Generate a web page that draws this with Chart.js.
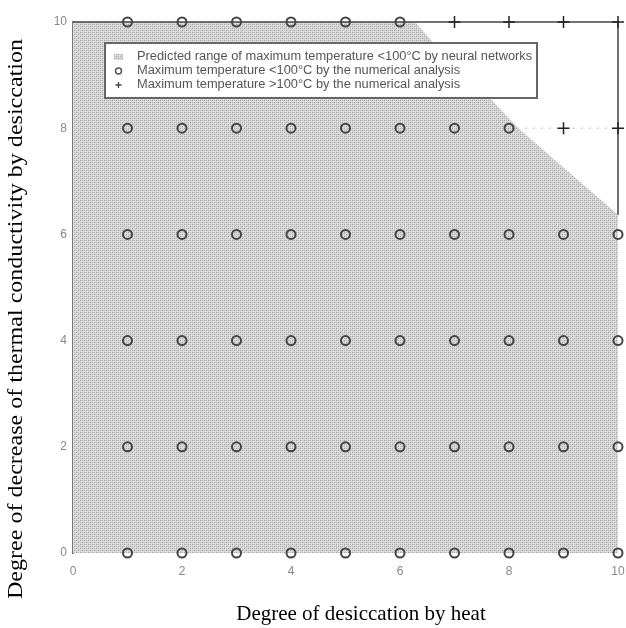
<!DOCTYPE html>
<html>
<head>
<meta charset="utf-8">
<script src="https://cdn.jsdelivr.net/npm/chart.js@4"></script>
<style>
  html, body { margin: 0; padding: 0; background: #fff; }
  #wrap { width: 626px; height: 628px; position: relative; }
</style>
</head>
<body>
<div id="wrap"><canvas id="c" width="626" height="628"></canvas></div>
<script>
// ---- data ----
const xTicks = [0, 2, 4, 6, 8, 10];
const yTicks = [0, 2, 4, 6, 8, 10];
// points where the max temperature < 100°C (numerical analysis)
const belowX = [1,2,3,4,5,6,7,8,9,10, 1,2,3,4,5,6,7,8,9,10, 1,2,3,4,5,6,7,8,9,10, 1,2,3,4,5,6,7,8,9,10, 1,2,3,4,5,6,7,8, 1,2,3,4,5,6];
const belowY = [0,0,0,0,0,0,0,0,0,0, 2,2,2,2,2,2,2,2,2,2, 4,4,4,4,4,4,4,4,4,4, 6,6,6,6,6,6,6,6,6,6, 8,8,8,8,8,8,8,8, 10,10,10,10,10,10];
// points where the max temperature > 100°C
const aboveX = [7, 8, 9, 10, 9, 10];
const aboveY = [10, 10, 10, 10, 8, 8];
// boundary of the neural-network predicted range (<100°C)
const boundaryX = [0, 6.28, 6.6, 7.65, 8.17, 8.45, 10];
const boundaryY = [10, 10, 9.62, 8.57, 8.0, 7.75, 6.37];
const legendLabels = [
  'Predicted range of maximum temperature <100\u00B0C by neural networks',
  'Maximum temperature <100\u00B0C by the numerical analysis',
  'Maximum temperature >100\u00B0C by the numerical analysis'
];
const xTitle = 'Degree of desiccation by heat';
const yTitle = 'Degree of decrease of thermal conductivity by desiccation';

// ---- build ----
function makePattern() {
  const p = document.createElement('canvas');
  p.width = 4; p.height = 4;
  const g = p.getContext('2d');
  g.fillStyle = '#d6d6d6'; g.fillRect(0, 0, 4, 4);
  g.fillStyle = '#a4a4a4';
  g.fillRect(0, 0, 1, 1); g.fillRect(2, 2, 1, 1);
  g.fillStyle = '#bdbdbd';
  g.fillRect(2, 0, 1, 1); g.fillRect(0, 2, 1, 1);
  g.fillStyle = '#e6e6e6';
  g.fillRect(1, 1, 1, 1); g.fillRect(3, 3, 1, 1);
  return g.createPattern(p, 'repeat');
}
const pattern = makePattern();
const zip = (xs, ys) => xs.map((x, i) => ({ x: x, y: ys[i] }));

const legendPlugin = {
  id: 'customLegend',
  afterDatasetsDraw(chart) {
    const ctx = chart.ctx;
    const x0 = 105, y0 = 43, w = 432, h = 55;
    ctx.save();
    ctx.fillStyle = '#fff';
    ctx.fillRect(x0, y0, w, h);
    ctx.strokeStyle = '#666';
    ctx.lineWidth = 2;
    ctx.strokeRect(x0, y0, w, h);
    const rows = [57, 71, 85];
    ctx.fillStyle = pattern;
    ctx.fillRect(114, rows[0] - 3, 9, 6);
    ctx.beginPath();
    ctx.arc(118.5, rows[1], 3, 0, Math.PI * 2);
    ctx.strokeStyle = '#555'; ctx.lineWidth = 1.5; ctx.stroke();
    ctx.beginPath();
    ctx.moveTo(115.5, rows[2]); ctx.lineTo(121.5, rows[2]);
    ctx.moveTo(118.5, rows[2] - 3); ctx.lineTo(118.5, rows[2] + 3);
    ctx.strokeStyle = '#444'; ctx.lineWidth = 1.3; ctx.stroke();
    ctx.fillStyle = '#555';
    ctx.font = '12px "Liberation Sans", Arial, sans-serif';
    ctx.textBaseline = 'middle';
    ctx.textAlign = 'left';
    legendLabels.forEach((t, i) => {
      ctx.save();
      ctx.translate(137, rows[i]);
      ctx.scale(1.07, 1);
      ctx.fillText(t, 0, 0);
      ctx.restore();
    });
    ctx.restore();
  }
};

const titlePlugin = {
  id: 'customTitles',
  afterDraw(chart) {
    const ctx = chart.ctx;
    ctx.save();
    ctx.fillStyle = '#000';
    ctx.font = '21px "Liberation Serif", "Times New Roman", serif';
    ctx.textAlign = 'center';
    ctx.textBaseline = 'middle';
    ctx.fillText(xTitle, 361, 614);
    ctx.translate(16, 319);
    ctx.rotate(-Math.PI / 2);
    const wY = ctx.measureText(yTitle).width;
    ctx.scale(560 / wY, 1);
    ctx.fillText(yTitle, 0, 0);
    ctx.restore();
  }
};

new Chart(document.getElementById('c'), {
  type: 'scatter',
  data: {
    datasets: [
      {
        type: 'line',
        label: legendLabels[0],
        data: zip(boundaryX, boundaryY),
        fill: 'origin',
        backgroundColor: pattern,
        borderWidth: 0,
        pointRadius: 0,
        tension: 0,
        clip: false,
        order: 10
      },
      {
        type: 'line',
        label: 'frame',
        data: [{ x: 0, y: 10 }, { x: 10, y: 10 }, { x: 10, y: 6.37 }],
        borderColor: '#444',
        borderWidth: 1.5,
        pointRadius: 0,
        fill: false,
        clip: false,
        order: 5
      },
      {
        type: 'line',
        label: 'dotted',
        data: [{ x: 8, y: 8 }, { x: 10, y: 8 }],
        borderColor: '#b8bfe0',
        borderWidth: 1,
        borderDash: [2, 6],
        pointRadius: 0,
        fill: false,
        clip: false,
        order: 5
      },
      {
        label: legendLabels[1],
        data: zip(belowX, belowY),
        pointStyle: 'circle',
        pointRadius: 4.5,
        borderWidth: 2,
        borderColor: '#444',
        backgroundColor: 'rgba(0,0,0,0)',
        clip: false,
        order: 1
      },
      {
        label: legendLabels[2],
        data: zip(aboveX, aboveY),
        pointStyle: 'cross',
        pointRadius: 6,
        borderWidth: 1.5,
        borderColor: '#222',
        clip: false,
        order: 1
      }
    ]
  },
  options: {
    responsive: false,
    animation: false,
    layout: { padding: { top: 22, right: 8, left: 0, bottom: 0 } },
    plugins: { legend: { display: false }, tooltip: { enabled: false } },
    scales: {
      x: {
        type: 'linear', min: 0, max: 10,
        afterFit(s) { s.height = 75; s.paddingLeft = 0; s.paddingRight = 0; },
        afterBuildTicks(s) { s.ticks = xTicks.map(v => ({ value: v })); },
        grid: { display: false, drawTicks: false },
        border: { display: false },
        ticks: { padding: 11, color: '#888', font: { size: 12, family: '"Liberation Sans", Arial, sans-serif' } }
      },
      y: {
        type: 'linear', min: 0, max: 10,
        afterFit(s) { s.width = 73; s.paddingTop = 0; s.paddingBottom = 0; },
        afterBuildTicks(s) { s.ticks = yTicks.map(v => ({ value: v })); },
        grid: { display: false, drawTicks: false },
        border: { display: true, color: '#777', width: 2 },
        ticks: { padding: 6, color: '#888', font: { size: 12, family: '"Liberation Sans", Arial, sans-serif' } }
      }
    }
  },
  plugins: [legendPlugin, titlePlugin]
});
</script>
</body>
</html>
